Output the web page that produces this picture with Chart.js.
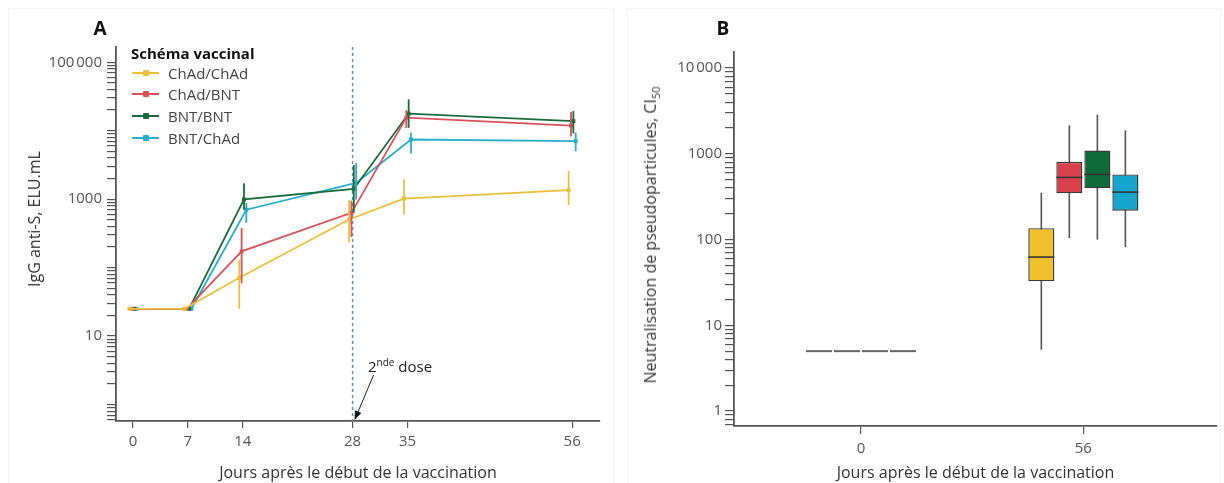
<!DOCTYPE html>
<html>
<head>
<meta charset="utf-8">
<script src="https://cdn.jsdelivr.net/npm/chart.js@4.4.0/dist/chart.umd.min.js"></script>
<style>
  html, body { margin: 0; padding: 0; background: #fff; }
  body { width: 1224px; height: 483px; position: relative; overflow: hidden; font-family: 'Open Sans', sans-serif; color: #333; }
  .panel { position: absolute; top: 0; height: 483px; }
  #panelA { left: 0; width: 612px; }
  #panelB { left: 620px; width: 604px; }
  .frame { position: absolute; border: 1px solid #f4f4f4; }
  .letter { position: absolute; font-weight: bold; font-size: 19px; color: #111; transform: translate(-50%, -50%); }
  .ytitle { position: absolute; white-space: nowrap; font-size: 16px; color: #333; transform: translate(-50%, -50%) rotate(-90deg); }
  .ytitle sub { font-size: 11px; }
  #legend { position: absolute; left: 131px; top: 0; }
  #legend .ltitle { position: absolute; top: 43px; left: 0; white-space: nowrap; font-weight: bold; font-size: 15px; line-height: 20px; color: #111; }
  #legend .row { position: absolute; left: 0; height: 22px; line-height: 22px; white-space: nowrap; font-size: 15px; color: #444; }
  #legend .swatch { position: absolute; left: 1px; top: 10px; width: 27px; height: 2px; }
  #legend .dot { position: absolute; left: 11px; top: -2px; width: 6px; height: 6px; border-radius: 1px; }
  #legend .lbl { position: absolute; left: 37px; top: 0; }
  #dose { position: absolute; left: 368px; top: 357px; font-size: 15px; line-height: 18px; color: #222; white-space: nowrap; }
  #dose sup { font-size: 10px; vertical-align: 6px; line-height: 0; }
</style>
</head>
<body>
<div class="frame" style="left:8px; top:8px; width:604px; height:480px;"></div>
<div class="frame" style="left:627px; top:8px; width:592px; height:480px;"></div>
<div class="panel" id="panelA"><canvas id="chartA" width="612" height="483"></canvas></div>
<div class="panel" id="panelB"><canvas id="chartB" width="604" height="483"></canvas></div>
<div class="letter" style="left:100px; top:28px;">A</div>
<div class="letter" style="left:723px; top:28px;">B</div>
<div class="ytitle" style="left:34px; top:219px;">IgG anti-S, ELU.mL</div>
<div class="ytitle" style="left:651px; top:235px;">Neutralisation de pseudoparticules, CI<sub>50</sub></div>
<div id="legend"><div class="ltitle">Schéma vaccinal</div></div>
<div id="dose">2<sup>nde</sup> dose</div>

<script>
// --- data ---
const schemes = ['ChAd/ChAd', 'ChAd/BNT', 'BNT/BNT', 'BNT/ChAd'];
const lineColors = ['#EBBF3C', '#D9525B', '#1B6B3A', '#2AAECB'];
const boxColors = ['#F0C02C', '#D8404C', '#0F6A3A', '#16A5CC'];

// panel A: IgG anti-S (geometric means with CI)
const days = [0, 7, 14, 28, 35, 56];
const iggChadChad = [25, 25, 71, 505, 1020, 1350];
const iggChadBnt = [25, 25, 173, 630, 15500, 11900];
const iggBntBnt = [25, 25, 990, 1410, 17800, 13800];
const iggBntChad = [25, 25, 700, 1730, 7430, 7040];
const lowChadChad = [null, null, 25, 235, 600, 820];
const highChadChad = [null, null, 130, 960, 1940, 2560];
const lowChadBnt = [null, null, 59, 280, 11000, 8300];
const highChadBnt = [null, null, 380, 950, 20000, 18800];
const lowBntBnt = [null, null, 700, 630, 11000, 9100];
const highBntBnt = [null, null, 1700, 3160, 28700, 19400];
const lowBntChad = [null, null, 450, 985, 4650, 5020];
const highBntChad = [null, null, 880, 3360, 9300, 9400];
const iggTickValues = [10, 1000, 100000];
const iggTickLabels = ['10', '1000', '100\u202F000'];
const secondDoseDay = 28;

// panel B: pseudoparticle neutralisation (box plots)
const nabDays = ['0', '56'];
const nabDay0 = [5, 5, 5, 5];
const nabMin56 = [5.2, 104, 100, 82];
const nabQ1_56 = [32.6, 346, 396, 217];
const nabMedian56 = [62.5, 531, 576, 358];
const nabQ3_56 = [136, 809, 1090, 576];
const nabMax56 = [352, 2150, 2860, 1875];
const nabTickValues = [1, 10, 100, 1000, 10000];
const nabTickLabels = ['1', '10', '100', '1000', '10\u202F000'];

const iggSeries = [iggChadChad, iggChadBnt, iggBntBnt, iggBntChad];
const iggLow = [lowChadChad, lowChadBnt, lowBntBnt, lowBntChad];
const iggHigh = [highChadChad, highChadBnt, highBntBnt, highBntChad];

// --- helpers ---
const axisGray = '#555';
const tickFont = { family: "'Open Sans', sans-serif", size: 15 };
const titleFont = { family: "'Open Sans', sans-serif", size: 16 };
const dodge = [-0.45, -0.15, 0.15, 0.45];

function logTicks(min, max) {
  const out = [];
  for (let e = Math.floor(Math.log10(min)); e <= Math.ceil(Math.log10(max)); e++) {
    for (let m = 1; m <= 9; m++) {
      const v = m * Math.pow(10, e);
      if (v >= min && v <= max) out.push({ value: v });
    }
  }
  return out;
}

function labelFor(values, labels) {
  return function(v) {
    const i = values.findIndex(t => Math.abs(t - v) / t < 1e-6);
    return i >= 0 ? labels[i] : '';
  };
}

// legend
const legend = document.getElementById('legend');
schemes.forEach((name, i) => {
  const row = document.createElement('div');
  row.className = 'row';
  row.style.top = (61.5 + 21.7 * i) + 'px';
  row.innerHTML = '<div class="swatch" style="background:' + lineColors[i] + '"><div class="dot" style="background:' + lineColors[i] + '"></div></div><span class="lbl">' + name + '</span>';
  legend.appendChild(row);
});

// --- plugins ---
const errorBars = {
  id: 'errorBars',
  afterDatasetsDraw(chart) {
    const ctx = chart.ctx;
    const y = chart.scales.y;
    chart.data.datasets.forEach((ds, di) => {
      const meta = chart.getDatasetMeta(di);
      iggLow[di].forEach((lo, i) => {
        if (lo == null) return;
        const pt = meta.data[i];
        ctx.save();
        ctx.strokeStyle = ds.borderColor;
        ctx.lineWidth = 1.8;
        ctx.beginPath();
        ctx.moveTo(pt.x, y.getPixelForValue(lo));
        ctx.lineTo(pt.x, y.getPixelForValue(iggHigh[di][i]));
        ctx.stroke();
        ctx.restore();
      });
    });
  }
};

const doseMarker = {
  id: 'doseMarker',
  beforeDatasetsDraw(chart) {
    const ctx = chart.ctx;
    const area = chart.chartArea;
    const x = chart.scales.x.getPixelForValue(secondDoseDay);
    ctx.save();
    ctx.strokeStyle = '#6F8CA3';
    ctx.lineWidth = 1.5;
    ctx.setLineDash([3, 3]);
    ctx.beginPath();
    ctx.moveTo(x, area.top);
    ctx.lineTo(x, area.bottom);
    ctx.stroke();
    ctx.restore();
  },
  afterDatasetsDraw(chart) {
    const ctx = chart.ctx;
    const area = chart.chartArea;
    const x = chart.scales.x.getPixelForValue(secondDoseDay);
    const tipX = x + 2, tipY = area.bottom - 1;
    const fromX = x + 21, fromY = area.bottom - 46;
    const ang = Math.atan2(tipY - fromY, tipX - fromX);
    ctx.save();
    ctx.strokeStyle = '#222';
    ctx.fillStyle = '#111';
    ctx.lineWidth = 1;
    ctx.beginPath();
    ctx.moveTo(fromX, fromY);
    ctx.lineTo(tipX - 6 * Math.cos(ang), tipY - 6 * Math.sin(ang));
    ctx.stroke();
    ctx.beginPath();
    ctx.moveTo(tipX, tipY);
    ctx.lineTo(tipX - 9 * Math.cos(ang) + 3.5 * Math.sin(ang), tipY - 9 * Math.sin(ang) - 3.5 * Math.cos(ang));
    ctx.lineTo(tipX - 9 * Math.cos(ang) - 3.5 * Math.sin(ang), tipY - 9 * Math.sin(ang) + 3.5 * Math.cos(ang));
    ctx.closePath();
    ctx.fill();
    ctx.restore();
  }
};

const boxParts = {
  id: 'boxParts',
  beforeDatasetsDraw(chart) {
    const ctx = chart.ctx;
    const y = chart.scales.y;
    chart.data.datasets.forEach((ds, di) => {
      const bar = chart.getDatasetMeta(di).data[1];
      ctx.save();
      ctx.strokeStyle = '#555';
      ctx.lineWidth = 1.6;
      ctx.beginPath();
      ctx.moveTo(bar.x, y.getPixelForValue(nabMin56[di]));
      ctx.lineTo(bar.x, y.getPixelForValue(nabMax56[di]));
      ctx.stroke();
      ctx.restore();
    });
  },
  afterDatasetsDraw(chart) {
    const ctx = chart.ctx;
    const y = chart.scales.y;
    chart.data.datasets.forEach((ds, di) => {
      const meta = chart.getDatasetMeta(di);
      const medians = [nabDay0[di], nabMedian56[di]];
      meta.data.forEach((bar, i) => {
        const py = y.getPixelForValue(medians[i]);
        ctx.save();
        ctx.strokeStyle = i === 0 ? '#666' : '#333';
        ctx.lineWidth = i === 0 ? 2 : 1.6;
        ctx.beginPath();
        ctx.moveTo(bar.x - bar.width / 2, py);
        ctx.lineTo(bar.x + bar.width / 2, py);
        ctx.stroke();
        ctx.restore();
      });
    });
  }
};

// --- panel A ---
new Chart(document.getElementById('chartA'), {
  type: 'line',
  data: {
    datasets: schemes.map((name, si) => ({
      label: name,
      data: days.map((d, i) => ({ x: d + dodge[si], y: iggSeries[si][i] })),
      borderColor: lineColors[si],
      backgroundColor: lineColors[si],
      borderWidth: 1.8,
      pointStyle: 'rect',
      pointRadius: 2.8,
      pointBorderWidth: 0,
      tension: 0
    }))
  },
  options: {
    responsive: false,
    animation: false,
    layout: { padding: { left: 0, top: 47, right: 12, bottom: 0 } },
    plugins: { legend: { display: false }, tooltip: { enabled: false } },
    scales: {
      x: {
        type: 'linear',
        min: -2.17,
        max: 59.55,
        afterBuildTicks: s => { s.ticks = days.map(d => ({ value: d })); },
        afterFit: s => { s.height = 62; },
        ticks: { autoSkip: false, maxRotation: 0, padding: 5, color: axisGray, font: tickFont, callback: v => String(v) },
        grid: { drawOnChartArea: false, tickLength: 7, color: axisGray, lineWidth: 1.2 },
        border: { color: axisGray, width: 1.8 },
        title: { display: true, text: 'Jours après le début de la vaccination', color: '#333', font: titleFont, padding: { top: 2, bottom: 0 } }
      },
      y: {
        type: 'logarithmic',
        min: 0.574,
        max: 167000,
        afterBuildTicks: s => { s.ticks = logTicks(0.574, 167000); },
        afterFit: s => { s.width = 116; },
        ticks: { autoSkip: false, padding: 5, color: axisGray, font: tickFont, callback: labelFor(iggTickValues, iggTickLabels) },
        grid: { drawOnChartArea: false, tickLength: 9, color: axisGray, lineWidth: 1.2 },
        border: { color: axisGray, width: 1.8 }
      }
    }
  },
  plugins: [doseMarker, errorBars]
});

// --- panel B ---
new Chart(document.getElementById('chartB'), {
  type: 'bar',
  data: {
    datasets: schemes.map((name, si) => ({
      label: name,
      data: [
        { x: 0, y: [nabDay0[si], nabDay0[si]] },
        { x: 1, y: [nabQ1_56[si], nabQ3_56[si]] }
      ],
      backgroundColor: boxColors[si],
      borderColor: '#3A3A3A',
      borderWidth: 1.4,
      borderSkipped: false,
      categoryPercentage: 0.504,
      barPercentage: 0.93
    }))
  },
  options: {
    responsive: false,
    animation: false,
    layout: { padding: { left: 0, top: 52, right: 7, bottom: 0 } },
    plugins: { legend: { display: false }, tooltip: { enabled: false } },
    scales: {
      x: {
        type: 'linear',
        offset: false,
        min: -0.571,
        max: 1.601,
        afterBuildTicks: s => { s.ticks = nabDays.map((d, i) => ({ value: i })); },
        afterFit: s => { s.height = 57; },
        ticks: { autoSkip: false, maxRotation: 0, padding: 6, color: axisGray, font: tickFont, callback: v => nabDays[v] },
        grid: { drawOnChartArea: false, offset: false, tickLength: 8, color: axisGray, lineWidth: 1.2 },
        border: { color: axisGray, width: 1.8 },
        title: { display: true, text: 'Jours après le début de la vaccination', color: '#333', font: titleFont, padding: { top: 2, bottom: 0 } }
      },
      y: {
        type: 'logarithmic',
        min: 0.67,
        max: 15400,
        afterBuildTicks: s => { s.ticks = logTicks(0.67, 15400); },
        afterFit: s => { s.width = 114; },
        ticks: { autoSkip: false, padding: 3, color: axisGray, font: tickFont, callback: labelFor(nabTickValues, nabTickLabels) },
        grid: { drawOnChartArea: false, tickLength: 9, color: axisGray, lineWidth: 1.2 },
        border: { color: axisGray, width: 1.8 }
      }
    }
  },
  plugins: [boxParts]
});
</script>
</body>
</html>
